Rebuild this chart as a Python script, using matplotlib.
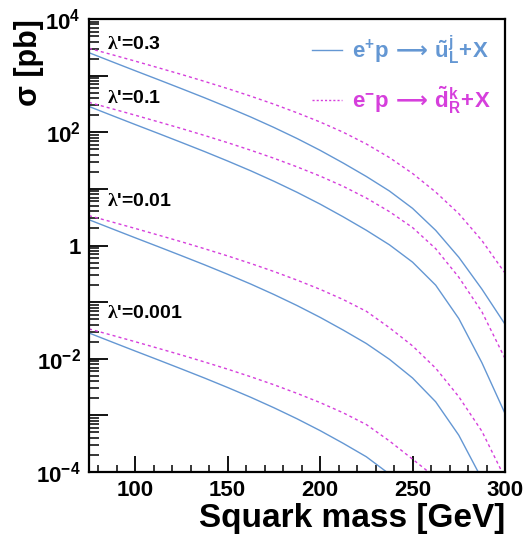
import matplotlib
matplotlib.use("Agg")
import matplotlib.pyplot as plt
import numpy as np
from matplotlib.ticker import FixedLocator, NullFormatter, FixedFormatter
from matplotlib.lines import Line2D
from matplotlib import font_manager
from matplotlib.ft2font import FT2Font

plt.rcParams['font.family'] = ['Liberation Sans', 'DejaVu Sans']
plt.rcParams['font.weight'] = 'bold'
plt.rcParams['mathtext.fontset'] = 'custom'
plt.rcParams['mathtext.rm'] = 'Liberation Serif'
plt.rcParams['mathtext.bf'] = 'Liberation Sans:bold'
plt.rcParams['mathtext.it'] = 'Liberation Sans:bold:italic'
plt.rcParams['mathtext.sf'] = 'Liberation Sans:bold'
plt.rcParams['mathtext.fallback'] = 'stix'

# pick a font that really has the (thin) long arrow glyph for the legend
arrow_cmd = r"\rightarrow"
for fam in ['STIXGeneral', 'DejaVu Sans', 'DejaVu Serif']:
    try:
        path = font_manager.findfont(fam, fallback_to_default=False)
        if 0x27F6 in FT2Font(path).get_charmap():
            plt.rcParams['mathtext.tt'] = fam
            arrow_cmd = r"\mathtt{\longrightarrow}"
            break
    except Exception:
        pass

# ---------------- data (log10 of sigma in pb) -------------
mass = [75, 87.5, 100, 112.5, 125, 137.5, 150, 162.5, 175, 187.5, 200,
        212.5, 225, 237.5, 250, 262.5, 275, 287.5, 300]

# e+p -> u~_L (solid blue)
ep_l03 = [3.405, 3.245, 3.086, 2.929, 2.770, 2.609, 2.442, 2.269, 2.085, 1.890, 1.681,
          1.456, 1.219, 0.962, 0.656, 0.268, -0.207, -0.770, -1.390]
ep_l01 = [2.455, 2.295, 2.136, 1.979, 1.820, 1.659, 1.492, 1.319, 1.135, 0.940, 0.731,
          0.506, 0.269, 0.012, -0.294, -0.700, -1.290, -2.070, -2.966]
mass_ep_l001 = [75, 87.5, 100, 112.5, 125, 137.5, 150, 162.5, 175, 187.5, 200,
                212.5, 225, 237.5, 250, 262.5, 275, 285.5]
ep_l001 = [0.455, 0.295, 0.136, -0.021, -0.180, -0.341, -0.508, -0.681, -0.865, -1.060,
           -1.269, -1.494, -1.731, -2.010, -2.340, -2.760, -3.350, -4.0]
mass_ep_l0001 = [75, 87.5, 100, 112.5, 125, 137.5, 150, 162.5, 175, 187.5, 200,
                 212.5, 225, 236]
ep_l0001 = [-1.545, -1.705, -1.864, -2.021, -2.180, -2.341, -2.508, -2.681, -2.865,
            -3.060, -3.269, -3.494, -3.731, -4.0]

# e-p -> d~_R (dotted magenta)
em_l03 = [3.482, 3.370, 3.256, 3.139, 3.021, 2.898, 2.771, 2.637, 2.496, 2.344, 2.181,
          2.000, 1.793, 1.553, 1.272, 0.944, 0.563, 0.088, -0.487]
em_l01 = [2.527, 2.415, 2.301, 2.184, 2.066, 1.943, 1.816, 1.682, 1.541, 1.389, 1.226,
          1.045, 0.838, 0.598, 0.317, -0.056, -0.560, -1.170, -1.995]
mass_em_l001 = [75, 87.5, 100, 112.5, 125, 137.5, 150, 162.5, 175, 187.5, 200,
                212.5, 225, 237.5, 250, 262.5, 275, 287.5, 298.4]
em_l001 = [0.527, 0.415, 0.301, 0.184, 0.066, -0.057, -0.184, -0.318, -0.459, -0.611,
           -0.774, -0.955, -1.162, -1.452, -1.773, -2.166, -2.670, -3.280, -4.0]
mass_em_l0001 = [75, 87.5, 100, 112.5, 125, 137.5, 150, 162.5, 175, 187.5, 200,
                 212.5, 225, 237.5, 250, 258.7]
em_l0001 = [-1.473, -1.585, -1.699, -1.816, -1.934, -2.057, -2.184, -2.318, -2.459,
            -2.611, -2.774, -2.955, -3.162, -3.452, -3.773, -4.0]

lambda_labels = ["0.3", "0.1", "0.01", "0.001"]
lambda_label_y = [3.545, 2.59, 0.78, -1.20]   # log10 sigma position of the labels

x_major = [100, 150, 200, 250, 300]
y_label_exps = [4, 2, 0, -2, -4]

legend_labels = [r"$\mathbf{e^{+}p}\,%s\,\mathbf{\tilde{u}^{j}_{L}\!+\!X}$" % arrow_cmd,
                 r"$\mathbf{e^{-}p}\,%s\,\mathbf{\tilde{d}^{k}_{R}\!+\!X}$" % arrow_cmd]

# ---------------- style ----------------
blue = '#6497d3'
mag = '#d63fdc'

W, H = 527, 538
fig = plt.figure(figsize=(W / 100, H / 100), dpi=100)
ax = fig.add_axes([89 / W, 1 - 472 / H, (505 - 89) / W, (472 - 19) / H])

def pl(x, ly, solid):
    y = 10 ** np.asarray(ly, dtype=float)
    if solid:
        ax.plot(x, y, color=blue, lw=1.0, solid_capstyle='butt')
    else:
        ax.plot(x, y, color=mag, lw=1.0, dashes=(2.2, 2.2))

for xs, ly in [(mass, ep_l03), (mass, ep_l01), (mass_ep_l001, ep_l001), (mass_ep_l0001, ep_l0001)]:
    pl(xs, ly, True)
for xs, ly in [(mass, em_l03), (mass, em_l01), (mass_em_l001, em_l001), (mass_em_l0001, em_l0001)]:
    pl(xs, ly, False)

ax.set_yscale('log')
ax.set_xlim(75, 300)
ax.set_ylim(1e-4, 1e4)

for s in ax.spines.values():
    s.set_linewidth(1.6)

# x ticks
ax.xaxis.set_major_locator(FixedLocator(x_major))
ax.xaxis.set_minor_locator(FixedLocator([v for v in range(80, 300, 10) if v % 50 != 0]))
ax.set_xticklabels([str(v) for v in x_major])
# y ticks
ax.yaxis.set_major_locator(FixedLocator([10.0 ** e for e in range(-4, 5)]))
ylabs = []
for e in range(-4, 5):
    if e in y_label_exps:
        ylabs.append("1" if e == 0 else r"$\mathbf{10^{%d}}$" % e)
    else:
        ylabs.append("")
ax.yaxis.set_major_formatter(FixedFormatter(ylabs))
ax.yaxis.set_minor_locator(FixedLocator([m * 10.0 ** e for e in range(-4, 4) for m in range(2, 10)]))
ax.yaxis.set_minor_formatter(NullFormatter())

ax.tick_params(axis='x', which='major', direction='in', length=11.3, width=1.3,
               labelsize=16, pad=6)
ax.tick_params(axis='x', which='minor', direction='in', length=5.3, width=1.1)
ax.tick_params(axis='y', which='major', direction='in', length=13.7, width=1.3,
               labelsize=16, pad=6)
ax.tick_params(axis='y', which='minor', direction='in', length=7.5, width=1.1)
for t in ax.get_xticklabels() + ax.get_yticklabels():
    t.set_fontweight('bold')

ax.set_xlabel('Squark mass [GeV]', fontsize=24, fontweight='bold')
ax.xaxis.set_label_coords(1.0, -0.068)
ax.xaxis.label.set_ha('right')
ax.set_ylabel('σ [pb]', fontsize=22, fontweight='bold')
ax.yaxis.set_label_coords(-0.145, 1.0)
ax.yaxis.label.set_ha('right')
ax.yaxis.label.set_va('center')

for lab, ly in zip(lambda_labels, lambda_label_y):
    yf = (ly + 4) / 8
    ax.text(0.043, yf, r"$\mathrm{\lambda}$'=" + lab, transform=ax.transAxes,
            fontsize=14, fontweight='bold', ha='left', va='center')

handles = [Line2D([], [], color=blue, lw=1.0),
           Line2D([], [], color=mag, lw=1.0, dashes=(1.5, 1.5))]
leg = ax.legend(handles, legend_labels, loc='upper right', bbox_to_anchor=(1.0, 1.0),
                frameon=False, fontsize=16, handlelength=1.35, handletextpad=0.45,
                labelspacing=0.75, borderaxespad=0.25)
for t, c in zip(leg.get_texts(), [blue, mag]):
    t.set_color(c)

fig.savefig('out.png', dpi=100)
